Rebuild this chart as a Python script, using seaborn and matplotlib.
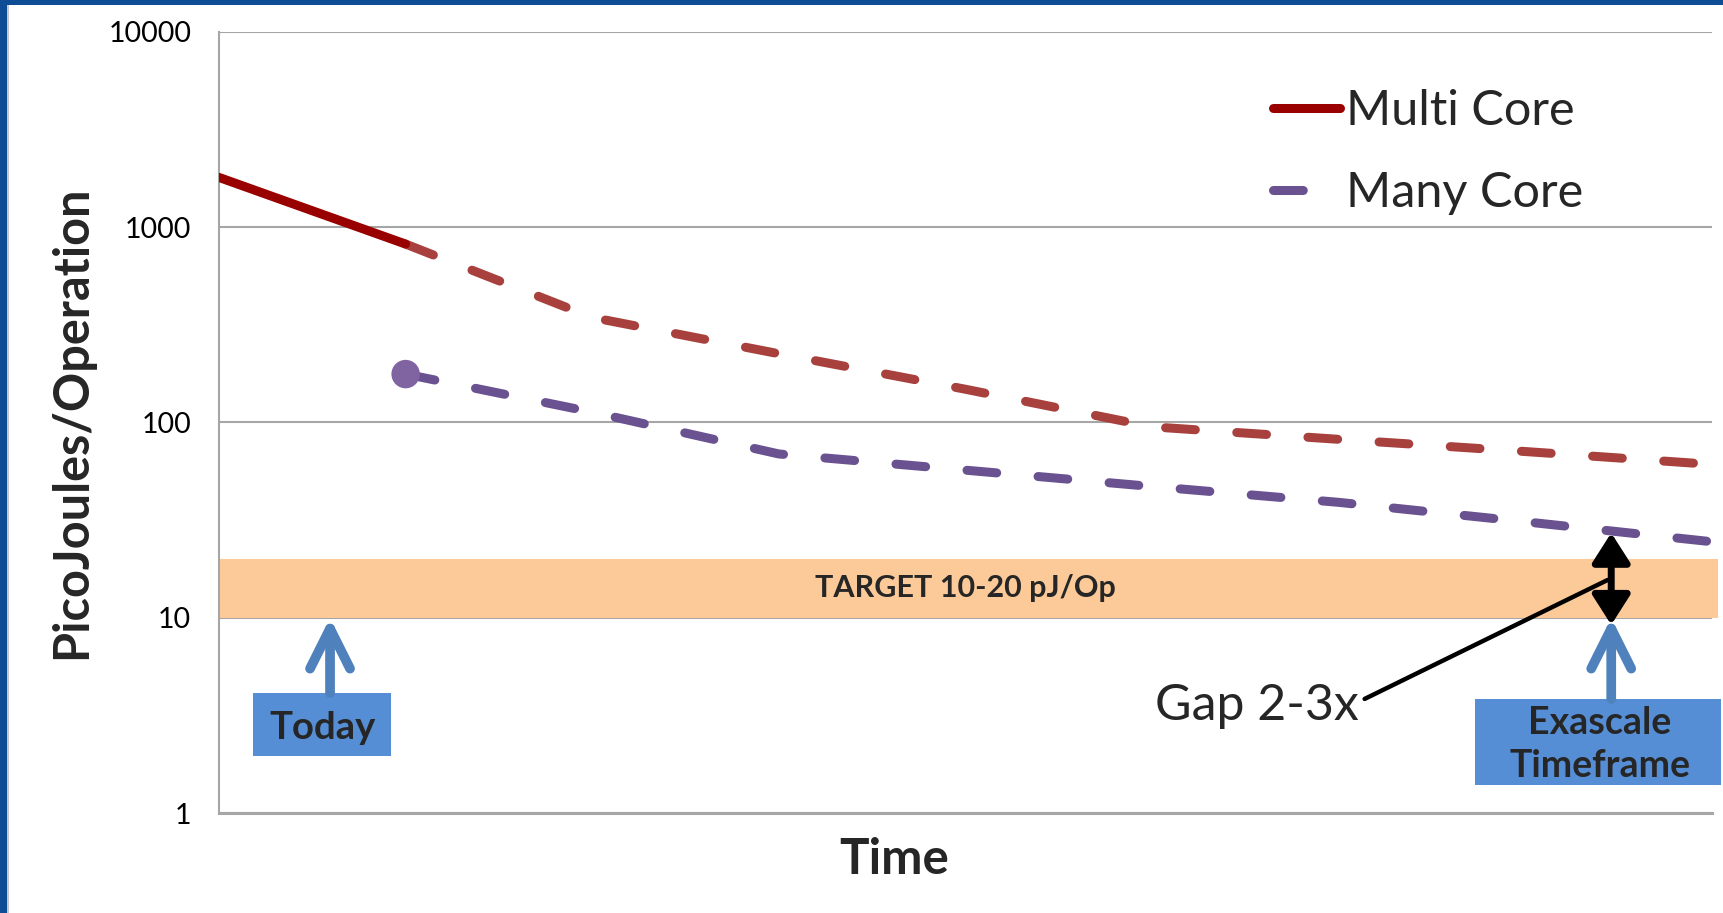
import seaborn as sns
import matplotlib.pyplot as plt
import pandas as pd
import numpy as np
from matplotlib.lines import Line2D
from matplotlib.patches import Rectangle
from matplotlib.ticker import NullLocator

# values (time steps, picojoules per operation)
time = [0, 1, 2, 3, 4, 5, 6, 7, 8]
multi_core = [1800, 820, 345, 225, 148, 95, 82, 71, 61]
many_core = [np.nan, 177, 113, 69, 57, 47, 39, 31, 24.5]

y_ticks = [1, 10, 100, 1000, 10000]
y_tick_labels = ["1", "10", "100", "1000", "10000"]
target_band = [10, 20]
target_label = "TARGET 10-20 pJ/Op"

# annotation anchors (time units / pJ)
today_x = 0.595
exascale_x = 7.46
gap_bottom = 9.2
gap_top = 27.2

df = pd.DataFrame({"Time": time, "Multi Core": multi_core, "Many Core": many_core})

sns.set_style("white")
plt.rcParams['font.family'] = ['Lato', 'DejaVu Sans']

RED = '#990000'
RED_DASH = '#A8413D'
PURPLE = '#6A5190'
PURPLE_MK = '#8064A2'
BOX = '#558ED5'
ARROW = '#4F81BD'
GRID = '#A6A6A6'
dash = (0, (3.3, 4.6))

fig = plt.figure(figsize=(17.24, 9.13), dpi=100)
ax = fig.add_axes([219 / 1724, 100 / 913, 1493 / 1724, 781 / 913])

# target band
ax.axhspan(target_band[0], target_band[1], xmin=0, xmax=1.004, color='#FCCA98',
           zorder=1, clip_on=False, lw=0)
ax.text(4.0, np.sqrt(target_band[0] * target_band[1]), target_label,
        ha='center', va='center', fontsize=22, fontweight='bold', zorder=2)

# lines
sns.lineplot(data=df.iloc[:2], x="Time", y="Multi Core", color=RED, lw=6.5,
             solid_capstyle='round', zorder=4, ax=ax)
sns.lineplot(data=df.iloc[1:], x="Time", y="Multi Core", color=RED_DASH, lw=6.5,
             linestyle=dash, dash_capstyle='round', zorder=3, ax=ax)
sns.lineplot(data=df.dropna(), x="Time", y="Many Core", color=PURPLE, lw=6.5,
             linestyle=dash, dash_capstyle='round', zorder=3, ax=ax)
sns.scatterplot(data=df.dropna().iloc[:1], x="Time", y="Many Core", s=420,
                color=PURPLE_MK, edgecolor='none', zorder=5, ax=ax)

ax.set_yscale('log')
ax.set_xlim(0, 8)
ax.set_ylim(1, 10000)
ax.set_yticks(y_ticks)
ax.set_yticklabels(y_tick_labels)
ax.yaxis.set_minor_locator(NullLocator())
ax.set_xticks([])
ax.grid(axis='y', color=GRID, lw=1.5)
ax.set_axisbelow(True)
for s in ['top', 'right']:
    ax.spines[s].set_visible(False)
ax.spines['left'].set_color(GRID)
ax.spines['left'].set_linewidth(1.5)
ax.spines['bottom'].set_color(GRID)
ax.spines['bottom'].set_linewidth(2.2)
ax.tick_params(axis='y', length=8, width=1.5, color=GRID, labelsize=20.5, pad=12,
               labelcolor='black')

ax.set_ylabel("PicoJoules/Operation", fontsize=35, fontweight='bold')
ax.yaxis.set_label_coords(-0.099, 0.5)
ax.yaxis.label.set_va('center')
ax.set_xlabel("Time", fontsize=35.5, fontweight='bold')
ax.xaxis.set_label_coords(0.452, -0.06)
ax.xaxis.label.set_va('center')

# "Today" box and arrow
ax.add_patch(Rectangle((0.18, 1.96), 0.74, 4.12 - 1.96, color=BOX, lw=0, zorder=3))
ax.text(0.552, 2.74, "Today", ha='center', va='center', fontsize=27.5,
        fontweight='bold', zorder=4)
ax.annotate('', xy=(today_x, 10), xytext=(today_x, 4.12),
            arrowprops=dict(arrowstyle='->,head_length=2.88,head_width=1.44',
                            mutation_scale=10, lw=7, color=ARROW,
                            capstyle='round', joinstyle='round',
                            shrinkA=0, shrinkB=0), zorder=3)

# "Exascale Timeframe" box and arrow
ax.add_patch(Rectangle((6.73, 1.39), 1.32, 3.84 - 1.39, color=BOX, lw=0,
                       zorder=3, clip_on=False))
ax.text(7.40, 2.24, "Exascale\nTimeframe", ha='center', va='center', fontsize=27,
        fontweight='bold', linespacing=1.3, zorder=4)
ax.annotate('', xy=(exascale_x, 10), xytext=(exascale_x, 3.84),
            arrowprops=dict(arrowstyle='->,head_length=2.88,head_width=1.44',
                            mutation_scale=10, lw=7, color=ARROW,
                            capstyle='round', joinstyle='round',
                            shrinkA=0, shrinkB=0), zorder=3)

# gap arrow
ax.annotate('', xy=(exascale_x, gap_top), xytext=(exascale_x, gap_bottom),
            arrowprops=dict(arrowstyle='<|-|>,head_length=1.8,head_width=1.15',
                            mutation_scale=10, lw=5, color='black',
                            shrinkA=0, shrinkB=0), zorder=6)
ax.annotate("Gap 2-3x", xy=(7.44, 15.6), xytext=(5.56, 3.52), ha='center',
            va='center', fontsize=36,
            arrowprops=dict(arrowstyle='-', lw=3.2, color='black',
                            relpos=(1.03, 0.66), shrinkA=0, shrinkB=0), zorder=6)

# legend
handles = [Line2D([], [], color=RED, lw=6.5, solid_capstyle='round'),
           Line2D([], [], color=PURPLE, lw=6.5, linestyle=dash, dash_capstyle='round')]
ax.legend(handles, ["Multi Core", "Many Core"], loc='upper left',
          bbox_to_anchor=(1273 / 1724, 1 - 89 / 913), bbox_transform=fig.transFigure,
          frameon=False, fontsize=35, handlelength=1.37, handletextpad=0.14,
          labelspacing=0.78, borderpad=0, borderaxespad=0)

# slide frame
fig.patches.append(Rectangle((0, 0), 7 / 1724, 1, transform=fig.transFigure,
                             color='#0E4C96', lw=0))
fig.patches.append(Rectangle((7 / 1724, 0), 2 / 1724, 1, transform=fig.transFigure,
                             color='#C8C8C8', lw=0))
fig.patches.append(Rectangle((0, 1 - 5 / 913), 1, 5 / 913, transform=fig.transFigure,
                             color='#0E4C96', lw=0))

plt.savefig('out.png', dpi=100)
